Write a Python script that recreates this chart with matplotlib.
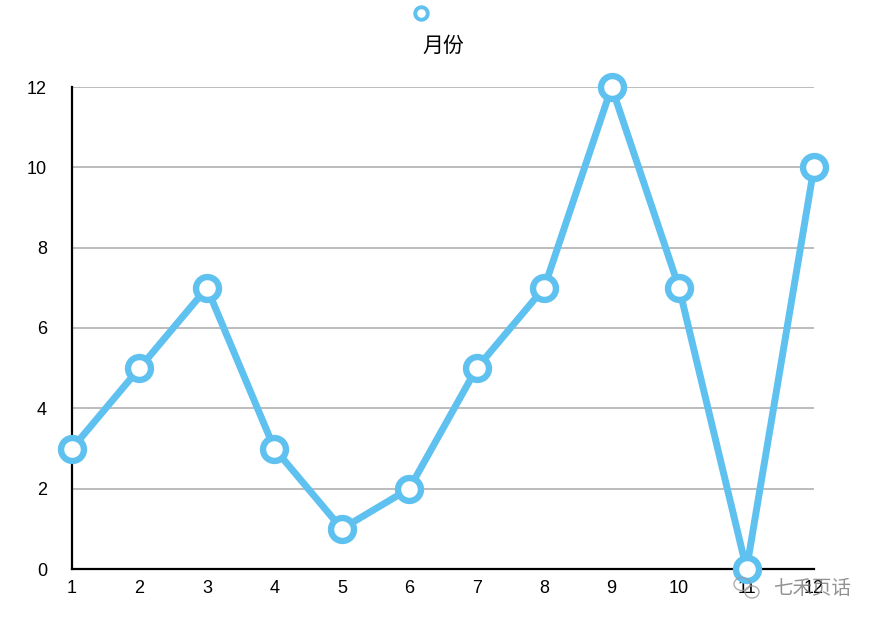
import matplotlib
matplotlib.use("Agg")

import matplotlib.pyplot as plt
from matplotlib.lines import Line2D
from matplotlib.patches import Ellipse

plt.rcParams['font.family'] = ['Liberation Sans', 'Noto Sans CJK SC', 'DejaVu Sans']

# data
months = [1, 2, 3, 4, 5, 6, 7, 8, 9, 10, 11, 12]
values = [3, 5, 7, 3, 1, 2, 5, 7, 12, 7, 0, 10]
series_name = "月份"
y_ticks = [0, 2, 4, 6, 8, 10, 12]

blue = "#5fc1f0"

fig = plt.figure(figsize=(8.88, 6.26), dpi=100)
ax = fig.add_axes([72/888, 57/626, (814-72)/888, (569-87)/626])

ax.plot(months, values, color=blue, lw=5, marker='o', ms=16.5,
        mfc='white', mec=blue, mew=4.6, clip_on=False, zorder=5)

ax.set_xlim(1, 12)
ax.set_ylim(0, 12)
ax.set_xticks(months)
ax.set_yticks(y_ticks)
ax.tick_params(axis='both', length=0, labelsize=13, colors='black')
ax.tick_params(axis='y', pad=18)
ax.tick_params(axis='x', pad=8)
ax.grid(axis='y', color='#a9a9a9', lw=1.1)
ax.set_axisbelow(True)
for s in ['top', 'right']:
    ax.spines[s].set_visible(False)
for s in ['left', 'bottom']:
    ax.spines[s].set_linewidth(1.6)
    ax.spines[s].set_color('black')

# legend-like header
fig.add_artist(Line2D([421/888], [1 - 13/626], transform=fig.transFigure,
                      marker='o', ms=9, mfc='white', mec=blue, mew=2.8, ls='none'))
fig.text(443/888, 1 - 46/626, series_name, ha='center', va='center',
         fontsize=15, family=['Noto Sans CJK SC', 'DejaVu Sans'])

# watermark (wechat-ish bubbles + name)
for cx, cy, w, h in [(742, 584, 16, 13), (752, 592, 14, 12)]:
    fig.add_artist(Ellipse((cx/888, 1 - cy/626), w/888, h/626, transform=fig.transFigure,
                           fill=False, ec='#999999', lw=1.0, alpha=0.8, zorder=10))
fig.text(812/888, 1 - 588/626, "七禾页话", ha='center', va='center', fontsize=14,
         color='#777777', alpha=0.8, family=['Noto Sans CJK SC', 'DejaVu Sans'])

fig.savefig("out.png", dpi=100)
